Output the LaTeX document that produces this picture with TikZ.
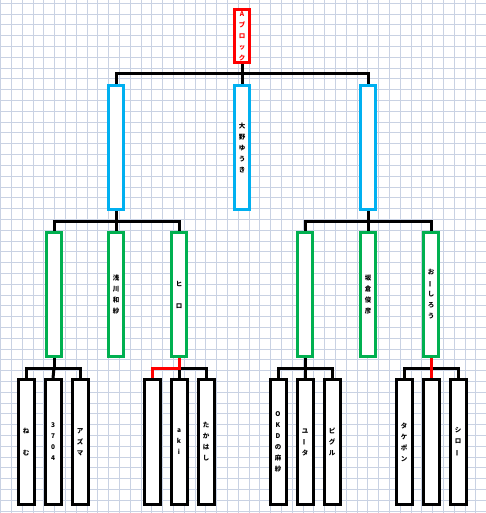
\documentclass[tikz,border=0pt]{standalone}
\usepackage{fontspec}
\setmainfont{Noto Sans CJK JP}
\definecolor{cyanb}{HTML}{00B0F0}
\definecolor{greenb}{HTML}{00B050}
\definecolor{gridc}{HTML}{C9D2E3}
\pgfdeclarelayer{gridlayer}
\pgfdeclarelayer{bg}
\pgfsetlayers{gridlayer,bg,main}
\newcommand\vbarjp{\rotatebox[origin=c]{90}{ー}}
\tikzset{
 box/.style={draw, line width=3pt, fill=white, inner sep=0pt, minimum width=15pt, minimum height=124pt, align=center, font=\fontsize{6.5}{11}\selectfont\bfseries},
 redbox/.style={box, draw=red, text=red, minimum height=53pt},
 bluebox/.style={box, draw=cyanb},
 greenbox/.style={box, draw=greenb},
 blackbox/.style={box, draw=black, minimum height=125pt, minimum width=16pt},
 conn/.style={line width=3pt, draw=black},
 redconn/.style={line width=3pt, draw=red},
 gridline/.style={draw=gridc, line width=0.8pt}
}
\begin{document}
\begin{tikzpicture}[x=1pt,y=-1pt]
\useasboundingbox (0,0) rectangle (486,513);
\begin{pgfonlayer}{gridlayer}
\fill[white] (0,0) rectangle (486,513);
\foreach \i in {0,...,45} \draw[gridline] ({0.5+10.8*\i},0) -- ({0.5+10.8*\i},513);
\foreach \j in {0,...,47} \draw[gridline] (0,{3.3+10.8*\j}) -- (486,{3.3+10.8*\j});
\end{pgfonlayer}
% level 1
\node[redbox] (A) at (242,36) {A\\ブ\\ロ\\ッ\\ク};
% level 2
\node[bluebox] (L) at (116,147.5) {};
\node[bluebox] (M) at (242,147.5) {大\\野\\ゆ\\う\\き};
\node[bluebox] (R) at (368,147.5) {};
% level 3
\node[greenbox] (La) at (54,294.5) {};
\node[greenbox] (Lb) at (116,294.5) {浅\\川\\和\\紗};
\node[greenbox] (Lc) at (179,294.5) {ヒ\\\mbox{}\\ロ};
\node[greenbox] (Ra) at (305,294.5) {};
\node[greenbox] (Rb) at (368,294.5) {坂\\倉\\俊\\彦};
\node[greenbox] (Rc) at (431,294.5) {お\\\vbarjp\\し\\ろ\\う};
% level 4
\node[blackbox] (a1) at (26,442) {ね\\\mbox{}\\む};
\node[blackbox] (a2) at (53,442) {3\\7\\0\\4};
\node[blackbox] (a3) at (80,442) {ア\\ズ\\マ};
\node[blackbox] (b1) at (152,442) {};
\node[blackbox] (b2) at (179,442) {a\\k\\i};
\node[blackbox] (b3) at (206,442) {た\\か\\は\\し};
\node[blackbox] (c1) at (278,442) {O\\K\\D\\の\\麻\\紗};
\node[blackbox] (c2) at (305,442) {ユ\\\vbarjp\\タ};
\node[blackbox] (c3) at (332,442) {ピ\\グ\\ル};
\node[blackbox] (d1) at (404,442) {タ\\ケ\\ポ\\ン};
\node[blackbox] (d2) at (431,442) {};
\node[blackbox] (d3) at (458,442) {シ\\ロ\\\vbarjp};
% junctions
\coordinate (t) at (242,74);
\coordinate (u) at (116,221);
\coordinate (v) at (368,221);
\coordinate (p) at (54,368);
\coordinate (q) at (179,368);
\coordinate (r) at (305,368);
\coordinate (s) at (431,368);
\begin{pgfonlayer}{bg}
\draw[conn] (A.south) -- (t);
\draw[conn] (L.north) |- (t) -| (R.north);
\draw[conn] (M.north) -- (t);
\draw[conn] (L.south) -- (u);
\draw[conn] (La.north) |- (u) -| (Lc.north);
\draw[conn] (Lb.north) -- (u);
\draw[conn] (R.south) -- (v);
\draw[conn] (Ra.north) |- (v) -| (Rc.north);
\draw[conn] (Rb.north) -- (v);
\draw[conn] (La.south) -- (p);
\draw[conn] (a1.north) |- (p) -| (a3.north);
\draw[conn] (a2.north) -- (p);
\draw[conn] (q) -| (b3.north);
\draw[conn] (b2.north) -- (q);
\draw[redconn] (Lc.south) -- (q) -| (b1.north);
\draw[conn] (Ra.south) -- (r);
\draw[conn] (c1.north) |- (r) -| (c3.north);
\draw[conn] (c2.north) -- (r);
\draw[conn] (d1.north) |- (s) -| (d3.north);
\draw[redconn] (Rc.south) -- (d2.north);
\end{pgfonlayer}
\end{tikzpicture}
\end{document}
